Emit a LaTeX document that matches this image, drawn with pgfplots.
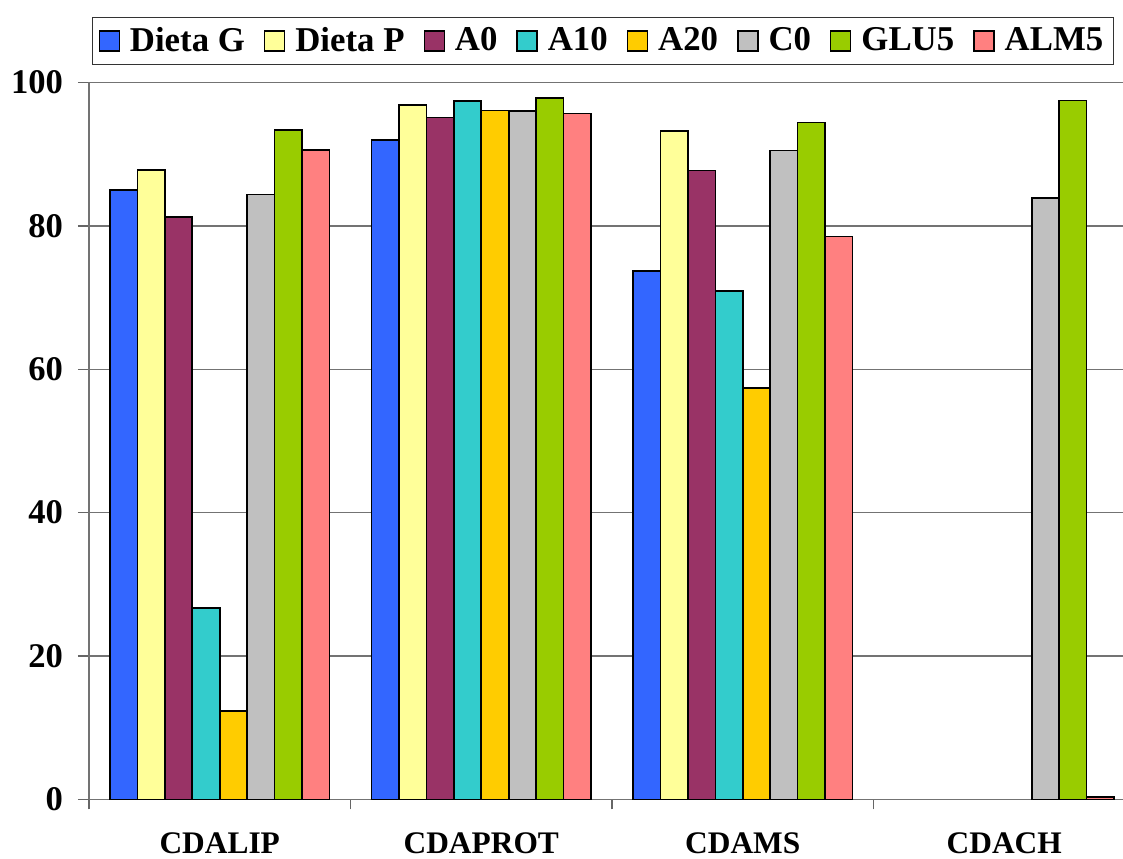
\documentclass[border=0pt]{standalone}
\usepackage{pgfplots}
\pgfplotsset{compat=1.18}
\usepackage{fontspec}
\setmainfont{Liberation Serif}
\definecolor{cG}{HTML}{3366FF}
\definecolor{cP}{HTML}{FFFF99}
\definecolor{cA0}{HTML}{993366}
\definecolor{cA10}{HTML}{33CCCC}
\definecolor{cA20}{HTML}{FFCC00}
\definecolor{cC0}{HTML}{C0C0C0}
\definecolor{cGLU}{HTML}{99CC00}
\definecolor{cALM}{HTML}{FF8080}
\begin{document}
\begin{tikzpicture}
\useasboundingbox (0,0) rectangle (561.5pt,429pt);
\begin{axis}[
  at={(44.5pt,29.35pt)}, anchor=south west,
  scale only axis, width=517pt, height=358.4pt,
  ybar=0pt, bar width=0.105,
  xmin=-0.5, xmax=3.454, ymin=0, ymax=100,
  axis x line*=bottom, axis y line*=left,
  axis line style={draw=black!55, line width=0.7pt},
  xtick={0,1,2,3},
  xticklabels={CDALIP,CDAPROT,CDAMS,CDACH},
  minor xtick={-0.5,0.5,1.5,2.5},
  major x tick style={draw=none},
  minor x tick style={draw=black!60, line width=0.7pt},
  minor tick length=5pt,
  ytick={0,20,40,60,80,100},
  major tick length=5.5pt,
  tick align=outside,
  y tick style={draw=black!60, line width=0.7pt},
  ymajorgrids, grid style={draw=black!55, line width=0.7pt},
  xticklabel style={font=\bfseries\fontsize{15.7}{18}\selectfont, yshift=-7.5pt},
  yticklabel style={font=\bfseries\fontsize{17.3}{20}\selectfont, xshift=-4pt},
  /pgf/number format/assume math mode=true,
  legend columns=-1,
  legend style={at={(0.497,1)}, anchor=south, yshift=8.75pt,
    draw=black!80, line width=0.6pt, inner xsep=3pt, inner ysep=3pt,
    font=\bfseries\fontsize{17.4}{20}\selectfont,
    /tikz/every even column/.append style={column sep=7.5pt},
    /tikz/every odd column/.append style={column sep=3pt}},
  legend image code/.code={\draw[#1, draw=black, line width=0.7pt] (0pt,-5pt) rectangle (10pt,5pt);},
  every axis plot/.append style={draw=black, line width=0.8pt},
]
\addplot[fill=cG] coordinates {(0,85.0) (1,92.0) (2,73.7)};
\addplot[fill=cP] coordinates {(0,87.8) (1,96.9) (2,93.2)};
\addplot[fill=cA0] coordinates {(0,81.2) (1,95.1) (2,87.7)};
\addplot[fill=cA10] coordinates {(0,26.7) (1,97.4) (2,70.9)};
\addplot[fill=cA20] coordinates {(0,12.3) (1,96.1) (2,57.4)};
\addplot[fill=cC0] coordinates {(0,84.4) (1,96.0) (2,90.5) (3,83.9)};
\addplot[fill=cGLU] coordinates {(0,93.4) (1,97.8) (2,94.4) (3,97.5)};
\addplot[fill=cALM] coordinates {(0,90.6) (1,95.7) (2,78.5) (3,0.3)};
\legend{Dieta G,Dieta P,A0,A10,A20,C0,GLU5,ALM5}
\end{axis}
\end{tikzpicture}
\end{document}
